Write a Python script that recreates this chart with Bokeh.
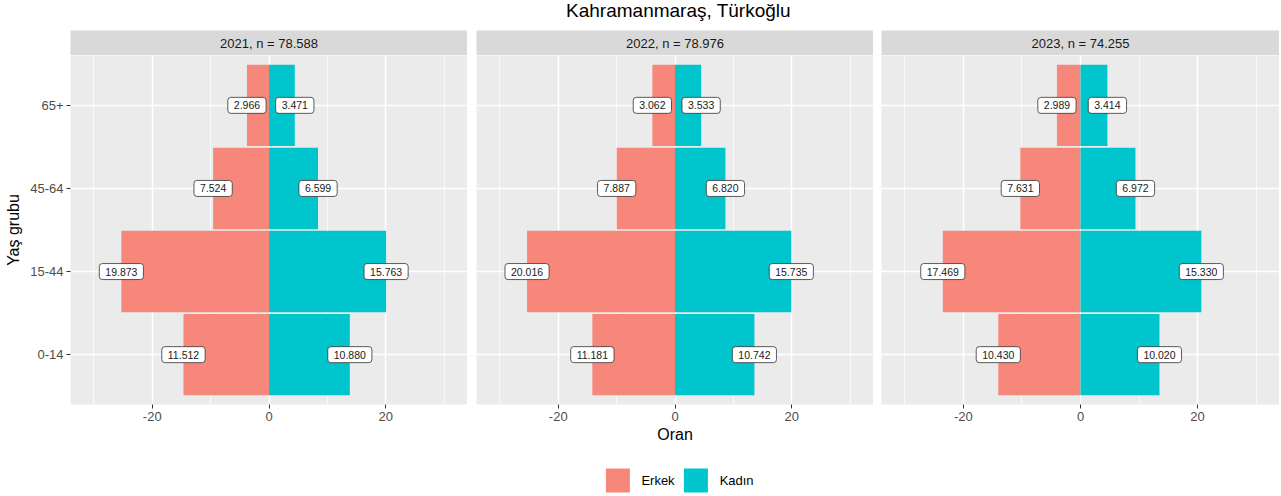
from bokeh.plotting import figure
from bokeh.layouts import row, column
from bokeh.models import (Range1d, FactorRange, FixedTicker, Legend, LegendItem,
                          ColumnDataSource)
from bokeh.core.properties import value
from bokeh.embed import file_html
from bokeh.resources import INLINE

# ---------------- data ----------------
title = "Kahramanmaraş, Türkoğlu"
age_groups = ["0-14", "15-44", "45-64", "65+"]
years = [2021, 2022, 2023]
n_totals = [78.588, 78.976, 74.255]
erkek_2021 = [11.512, 19.873, 7.524, 2.966]
kadin_2021 = [10.880, 15.763, 6.599, 3.471]
erkek_2022 = [11.181, 20.016, 7.887, 3.062]
kadin_2022 = [10.742, 15.735, 6.820, 3.533]
erkek_2023 = [10.430, 17.469, 7.631, 2.989]
kadin_2023 = [10.020, 15.330, 6.972, 3.414]
sexes = ["Erkek", "Kadın"]
colors = ["#F8877B", "#00C5CC"]
x_ticks = [-20, 0, 20]
x_tick_labels = ["-20", "0", "20"]
x_minor_ticks = [-30, -10, 10, 30]
x_label = "Oran"
y_label = "Yaş grubu"

erkek = [erkek_2021, erkek_2022, erkek_2023]
kadin = [kadin_2021, kadin_2022, kadin_2023]

FONT = "Liberation Sans"
BOTTOM = 45
FRAME_H = 349
lefts = [70, 9, 8]
frame_ws = [397, 397, 398]
TOTAL_W = sum(lefts) + sum(frame_ws)

cols = []
for i, yr in enumerate(years):
    n = n_totals[i]
    src = ColumnDataSource(dict(
        age=age_groups,
        erkek=[-c / n * 100 for c in erkek[i]],
        kadin=[c / n * 100 for c in kadin[i]],
        erkek_lbl=[f"{c:.3f}" for c in erkek[i]],
        kadin_lbl=[f"{c:.3f}" for c in kadin[i]],
    ))
    W = lefts[i] + frame_ws[i]
    p = figure(width=W, height=FRAME_H + BOTTOM,
               x_range=Range1d(-34, 34),
               y_range=FactorRange(factors=age_groups, range_padding=0.1,
                                   range_padding_units="absolute"),
               y_axis_location="left" if i == 0 else None,
               min_border_left=lefts[i], min_border_right=0,
               min_border_top=0, min_border_bottom=BOTTOM,
               background_fill_color="#EBEBEB", border_fill_color="white",
               outline_line_color=None, toolbar_location=None,
               output_backend="svg")
    p.hbar(y="age", left=0, right="erkek", height=0.98, source=src,
           fill_color=colors[0], line_color=None)
    p.hbar(y="age", left=0, right="kadin", height=0.98, source=src,
           fill_color=colors[1], line_color=None)
    for col in ["erkek", "kadin"]:
        p.text(x=col, y="age", text=col + "_lbl", source=src,
               text_font=value(FONT), text_font_size="10.5px",
               text_align="center", text_baseline="middle",
               text_color="#1A1A1A",
               background_fill_color="white", border_line_color="#333333",
               border_line_width=0.8, padding=(6, 4), border_radius=3)

    p.xaxis.ticker = FixedTicker(ticks=x_ticks, minor_ticks=x_minor_ticks)
    p.xgrid.ticker = p.xaxis[0].ticker
    p.xaxis.major_label_overrides = dict(zip(x_ticks, x_tick_labels))
    p.xaxis.axis_line_color = None
    p.xaxis.major_tick_line_color = "#333333"
    p.xaxis.major_tick_out = 4
    p.xaxis.major_tick_in = 0
    p.xaxis.minor_tick_line_color = None
    p.xaxis.major_label_text_color = "#4D4D4D"
    p.xaxis.major_label_text_font = FONT
    p.xaxis.major_label_text_font_size = "13px"
    p.xaxis.major_label_standoff = 3
    if i == 1:
        p.xaxis.axis_label = x_label
        p.xaxis.axis_label_text_font = FONT
        p.xaxis.axis_label_text_font_size = "16px"
        p.xaxis.axis_label_text_font_style = "normal"
        p.xaxis.axis_label_text_color = "black"
        p.xaxis.axis_label_standoff = 2
    if i == 0:
        p.yaxis.axis_line_color = None
        p.yaxis.major_tick_line_color = "#333333"
        p.yaxis.major_tick_out = 4
        p.yaxis.major_tick_in = 0
        p.yaxis.major_label_text_color = "#4D4D4D"
        p.yaxis.major_label_text_font = FONT
        p.yaxis.major_label_text_font_size = "13px"
        p.yaxis.major_label_standoff = 3
        p.yaxis.axis_label = y_label
        p.yaxis.axis_label_text_font = FONT
        p.yaxis.axis_label_text_font_size = "16px"
        p.yaxis.axis_label_text_font_style = "normal"
        p.yaxis.axis_label_text_color = "black"
        p.yaxis.axis_label_standoff = 5

    p.xgrid.grid_line_color = "white"
    p.xgrid.grid_line_width = 1.5
    p.xgrid.minor_grid_line_color = "white"
    p.xgrid.minor_grid_line_width = 0.7
    p.ygrid.grid_line_color = "white"
    p.ygrid.grid_line_width = 1.5

    # strip
    s = figure(width=W, height=25, x_range=p.x_range, y_range=Range1d(0, 1),
               x_axis_location=None, y_axis_location=None,
               min_border_left=lefts[i], min_border_right=0,
               min_border_top=0, min_border_bottom=0,
               background_fill_color="#D9D9D9", border_fill_color="white",
               outline_line_color=None, toolbar_location=None,
               output_backend="svg")
    s.grid.visible = False
    s.text(x=[0], y=[0.5], text=[f"{yr}, n = {n:.3f}"],
           text_font=value(FONT), text_font_size="13px",
           text_align="center", text_baseline="middle", text_color="#1A1A1A")
    cols.append(column(s, p, spacing=0))

# title
t = figure(width=TOTAL_W, height=30, x_range=Range1d(0, 1), y_range=Range1d(0, 30),
           x_axis_location=None, y_axis_location=None,
           min_border_left=lefts[0], min_border_right=0, min_border_top=0,
           min_border_bottom=0, outline_line_color=None,
           toolbar_location=None, output_backend="svg")
t.grid.visible = False
t.text(x=[0.5], y=[20], text=[title], text_font=value(FONT),
       text_font_size="19px", text_align="center", text_baseline="middle",
       text_color="black")

# legend
lg = figure(width=TOTAL_W, height=46, x_range=Range1d(0, 1), y_range=Range1d(0, 1),
            x_axis_location=None, y_axis_location=None,
            min_border_left=77, min_border_right=0, min_border_top=16,
            min_border_bottom=0, outline_line_color=None,
            toolbar_location=None, output_backend="svg")
lg.grid.visible = False
items = []
for sx, c in zip(sexes, colors):
    r = lg.hbar(y=[0], left=[0], right=[0], height=0, fill_color=c, line_color=None)
    items.append(LegendItem(label=sx, renderers=[r]))
legend = Legend(items=items, orientation="horizontal", location="center",
                glyph_width=30, glyph_height=30, label_standoff=9, spacing=6,
                padding=0, margin=0, border_line_color=None,
                background_fill_alpha=0, label_text_font=FONT,
                label_text_font_size="13px", label_text_color="black")
lg.add_layout(legend)

layout = column(t, row(*cols, spacing=0), lg, spacing=0)
open("out.html", "w").write(file_html(layout, INLINE))
